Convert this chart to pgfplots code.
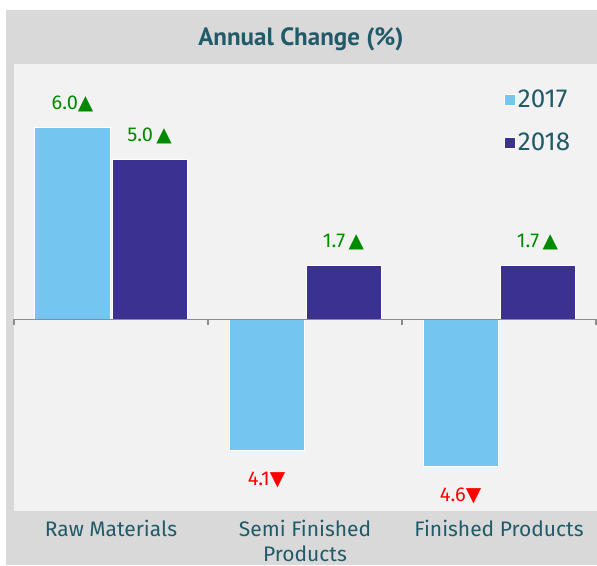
\documentclass[border=0pt]{standalone}
\usepackage{pgfplots}
\pgfplotsset{compat=1.18}
\usepackage{fontspec}
\setmainfont{Fira Sans}
\newfontfamily\titlefont{PT Sans}
\newfontfamily\sym{DejaVu Sans}
\definecolor{bgout}{HTML}{D9D9D9}
\definecolor{bgin}{HTML}{F2F2F2}
\definecolor{cA}{HTML}{74C6F0}
\definecolor{cB}{HTML}{3B3190}
\definecolor{txt}{HTML}{215A69}
\definecolor{upc}{HTML}{008A00}
\definecolor{dnc}{HTML}{FF0000}
\definecolor{axgray}{HTML}{8C8C8C}
\DeclareRobustCommand\lblup[1]{\textcolor{upc}{#1{\sym ▲}}}
\DeclareRobustCommand\lbldn[1]{\textcolor{dnc}{\rule{0pt}{18pt}#1{\sym ▼}}}
\begin{document}
\begin{tikzpicture}[x=1pt,y=1pt]
\useasboundingbox (0,0) rectangle (597,565);
\fill[white] (0,0) rectangle (597,565);
\fill[bgout] (6,0) rectangle (597,555);
\fill[bgin] (14,54) rectangle (597,501);
\node[font=\titlefont\bfseries\fontsize{25}{25}\selectfont, text=txt] at (301,526) {Annual Change (\%)};
\begin{axis}[
  at={(14pt,54pt)}, anchor=south west,
  width=582pt, height=447pt, scale only axis,
  xmin=-0.5, xmax=2.5, ymin=-6, ymax=8,
  ybar, bar width=75pt,
  hide y axis,
  axis x line*=bottom,
  x axis line style={draw=none},
  xtick={0,1,2},
  xticklabels={Raw Materials,{Semi Finished\\Products},Finished Products},
  major tick length=0pt,
  x tick label style={font=\fontsize{21}{25}\selectfont, text=txt, align=center, anchor=north, inner sep=0pt, yshift=-9pt},
  clip=false,
  point meta=explicit symbolic,
  nodes near coords={\pgfplotspointmeta},
  every node near coord/.append style={font=\fontsize{20}{20}\selectfont, inner xsep=0pt, inner ysep=15pt, anchor=south},
  legend cell align=left,
  legend style={at={(0.8419,0.947)}, anchor=north west, draw=none, fill=none, inner sep=0pt, font=\fontsize{26}{26}\selectfont, text=txt, row sep=20pt},
  legend image code/.code={\draw[#1, draw=white, line width=0.8pt] (0pt,-5.5pt) rectangle (11pt,5.5pt);},
]
\addplot[fill=cA, draw=white, line width=1pt, bar shift=-38.5pt] coordinates {(0,6.0) [\lblup{6.0}]};
\addplot[fill=cB, draw=white, line width=1pt, bar shift=38.5pt] coordinates {(0,5.0) [\lblup{5.0\,}] (1,1.7) [\lblup{1.7\,}] (2,1.7) [\lblup{1.7\,}]};
\addplot[forget plot, fill=cA, draw=white, line width=1pt, bar shift=-38.5pt,
  every node near coord/.append style={anchor=north, inner ysep=17pt}] coordinates {(1,-4.1) [\lbldn{4.1}] (2,-4.6) [\lbldn{4.6}]};
\legend{2017,2018}
\draw[axgray, line width=1.5pt] (axis cs:-0.5,0) -- (axis cs:2.5,0);
\pgfplotsinvokeforeach{-0.5,0.5,1.5,2.5}{\draw[axgray, line width=1.5pt] (axis cs:#1,0) -- ([yshift=-6pt]axis cs:#1,0);}
\end{axis}
\end{tikzpicture}
\end{document}
